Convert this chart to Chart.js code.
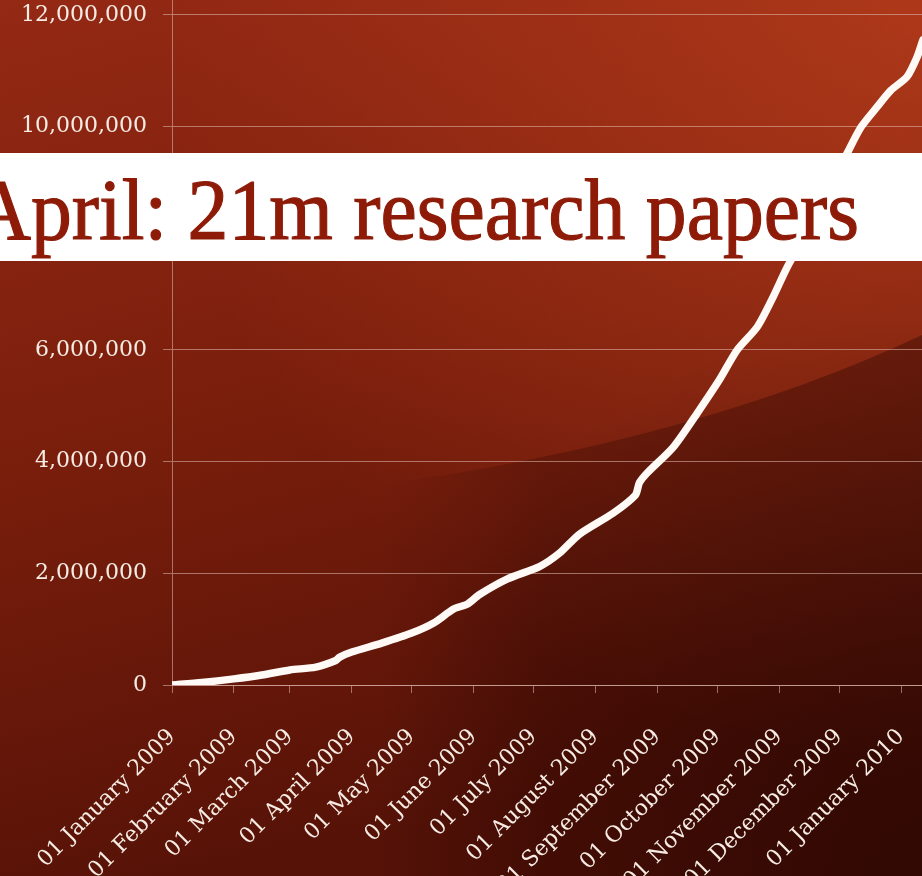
<!DOCTYPE html>
<html>
<head>
<meta charset="utf-8">
<script src="https://cdn.jsdelivr.net/npm/chart.js@4.4.0/dist/chart.umd.min.js"></script>
<style>
  html, body { margin: 0; padding: 0; background: #7a1d0c; overflow: hidden; }
  #wrap { position: relative; width: 922px; height: 876px; }
</style>
</head>
<body>
<div id="wrap"><canvas id="growthChart"></canvas></div>
<script>
// month starts, counted in days from 01 January 2009
const monthDays = [0, 31, 59, 90, 120, 151, 181, 212, 243, 273, 304, 334, 365];
const monthLabels = [
  "01 January 2009", "01 February 2009", "01 March 2009", "01 April 2009",
  "01 May 2009", "01 June 2009", "01 July 2009", "01 August 2009",
  "01 September 2009", "01 October 2009", "01 November 2009",
  "01 December 2009", "01 January 2010"
];
const yTicks = [0, 2000000, 4000000, 6000000, 8000000, 10000000, 12000000];

// cumulative papers
const days = [0, 15, 31, 45, 59, 72, 82, 84, 90, 105, 120, 131, 141, 148, 154, 168,
  184, 194, 204, 221, 232, 234, 238, 251, 263, 274, 283, 293, 301, 308, 317, 327,
  338, 345, 353, 360, 368, 373, 376, 380];
const papers = [0, 45000, 110000, 180000, 270000, 320000, 440000, 500000, 590000,
  750000, 930000, 1110000, 1360000, 1450000, 1620000, 1900000, 2120000, 2360000,
  2700000, 3080000, 3400000, 3620000, 3800000, 4260000, 4870000, 5460000, 6000000,
  6410000, 6950000, 7480000, 8050000, 8750000, 9520000, 9990000, 10350000,
  10650000, 10890000, 11240000, 11550000, 11900000];

const headline = "April: 21m research papers";

const textColor = "#f6ece4";
const gridColor = "rgba(225, 190, 180, 0.55)";
const labelFont = { family: "'DejaVu Serif', serif", size: 22 };

const backdrop = {
  id: "backdrop",
  beforeDraw(chart) {
    const { ctx, width, height } = chart;
    ctx.save();
    let g = ctx.createLinearGradient(0, 0, width * 0.25, height);
    g.addColorStop(0, "#942914");
    g.addColorStop(0.5, "#7a1e0c");
    g.addColorStop(1, "#561207");
    ctx.fillStyle = g;
    ctx.fillRect(0, 0, width, height);

    // warm glow top right
    let r = ctx.createRadialGradient(width, 0, 0, width, 0, 760);
    r.addColorStop(0, "rgba(200, 70, 32, 0.6)");
    r.addColorStop(1, "rgba(200, 70, 32, 0)");
    ctx.fillStyle = r;
    ctx.fillRect(0, 0, width, height);

    // dark swoosh lower right
    ctx.beginPath();
    ctx.moveTo(380, 485);
    ctx.quadraticCurveTo(700, 440, width, 335);
    ctx.lineTo(width, height);
    ctx.lineTo(380, height);
    ctx.closePath();
    let s = ctx.createLinearGradient(380, 0, width, 0);
    s.addColorStop(0, "rgba(40, 4, 0, 0)");
    s.addColorStop(0.3, "rgba(40, 4, 0, 0.28)");
    s.addColorStop(1, "rgba(40, 4, 0, 0.38)");
    ctx.fillStyle = s;
    ctx.fill();

    // deeper shadow toward bottom right corner
    let b = ctx.createRadialGradient(width, height, 0, width, height, 560);
    b.addColorStop(0, "rgba(20, 2, 0, 0.4)");
    b.addColorStop(1, "rgba(20, 2, 0, 0)");
    ctx.fillStyle = b;
    ctx.fillRect(0, 0, width, height);
    ctx.restore();
  }
};

const banner = {
  id: "banner",
  afterDraw(chart) {
    const { ctx, width } = chart;
    ctx.save();
    ctx.fillStyle = "#ffffff";
    ctx.fillRect(0, 153, width, 108);
    ctx.font = "86px 'Liberation Serif', serif";
    ctx.fillStyle = "#8e1b08";
    ctx.strokeStyle = "#8e1b08";
    ctx.lineWidth = 1.2;
    ctx.textBaseline = "alphabetic";
    const left = -28, right = 859;
    const w = ctx.measureText(headline).width;
    ctx.translate(left, 239);
    ctx.scale((right - left) / w, 1);
    ctx.fillText(headline, 0, 0);
    ctx.strokeText(headline, 0, 0);
    ctx.restore();
  }
};

new Chart(document.getElementById("growthChart"), {
  type: "line",
  data: {
    datasets: [{
      data: days.map((d, i) => ({ x: d, y: papers[i] })),
      borderColor: "#fffaf6",
      borderWidth: 7.5,
      pointRadius: 0,
      tension: 0.25,
      borderJoinStyle: "round",
      borderCapStyle: "round"
    }]
  },
  options: {
    responsive: true,
    maintainAspectRatio: false,
    animation: false,
    layout: { padding: 0 },
    plugins: { legend: { display: false }, tooltip: { enabled: false } },
    scales: {
      x: {
        type: "linear",
        min: 0,
        max: 375.5,
        afterBuildTicks: s => { s.ticks = monthDays.map(v => ({ value: v })); },
        afterFit: s => { s.height = 191; s.paddingLeft = 0; s.paddingRight = 0; },
        ticks: {
          autoSkip: false,
          minRotation: 45,
          maxRotation: 45,
          padding: 31,
          color: textColor,
          font: labelFont,
          callback: (v, i) => monthLabels[i]
        },
        grid: { drawOnChartArea: false, color: gridColor, tickLength: 8 },
        border: { color: gridColor }
      },
      y: {
        type: "linear",
        min: 0,
        max: 12265000,
        afterBuildTicks: s => { s.ticks = yTicks.map(v => ({ value: v })); },
        afterFit: s => { s.width = 172; s.paddingTop = 0; s.paddingBottom = 0; },
        ticks: {
          padding: 16,
          color: textColor,
          font: labelFont,
          callback: v => v.toLocaleString("en-US")
        },
        grid: { color: gridColor, tickLength: 9 },
        border: { color: gridColor }
      }
    }
  },
  plugins: [backdrop, banner]
});
</script>
</body>
</html>
